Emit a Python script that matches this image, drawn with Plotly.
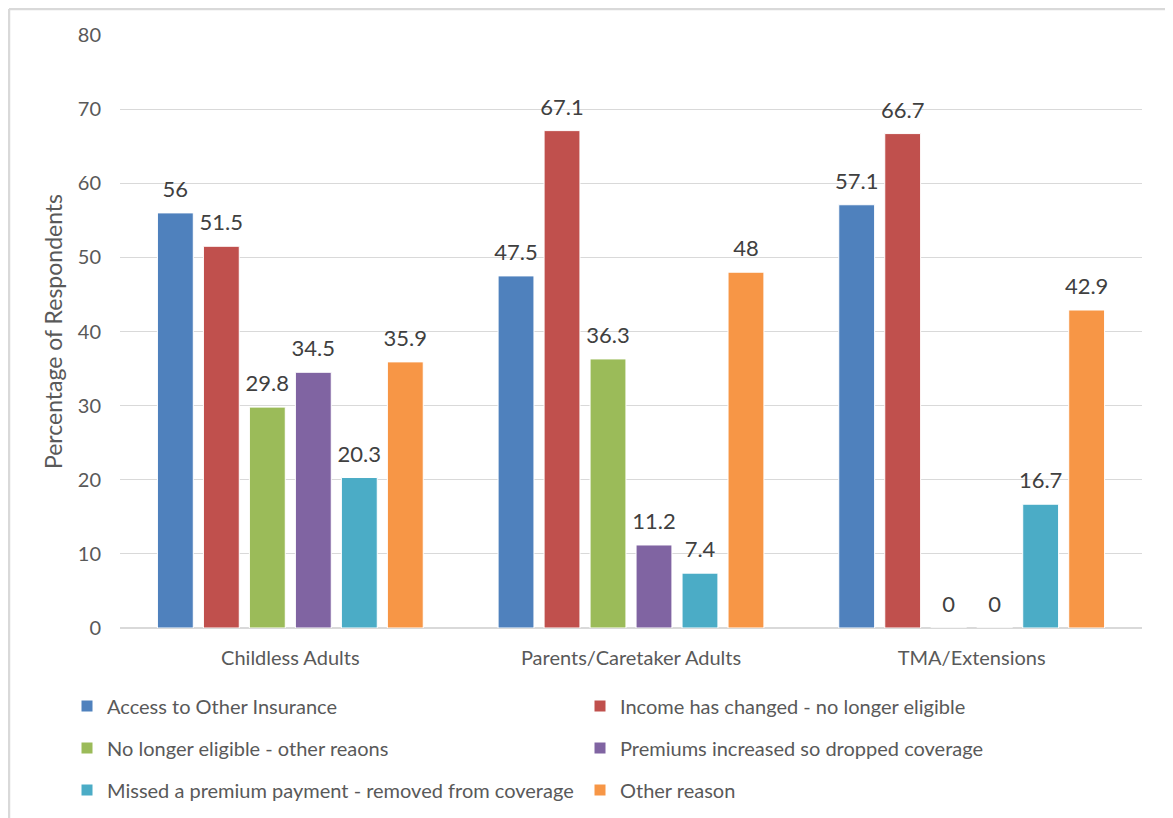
import plotly.graph_objects as go

categories = ["Childless Adults", "Parents/Caretaker Adults", "TMA/Extensions"]

series_names = [
    "Access to Other Insurance",
    "Income has changed - no longer eligible",
    "No longer eligible - other reaons",
    "Premiums increased so dropped coverage",
    "Missed a premium payment - removed from coverage",
    "Other reason",
]

access_other = [56, 47.5, 57.1]
income_changed = [51.5, 67.1, 66.7]
no_longer_eligible = [29.8, 36.3, 0]
premiums_increased = [34.5, 11.2, 0]
missed_premium = [20.3, 7.4, 16.7]
other_reason = [35.9, 48, 42.9]

colors = ["#4F81BD", "#C0504D", "#9BBB59", "#8064A2", "#4BACC6", "#F79646"]

values = [access_other, income_changed, no_longer_eligible,
          premiums_increased, missed_premium, other_reason]

FONT = "Lato, Carlito, 'Open Sans', sans-serif"
GREY = "#595959"
BARGAP = 0.19

# three one-row legends so the rows get Excel-like spacing
legend_ids = ["legend", "legend", "legend2", "legend2", "legend3", "legend3"]

fig = go.Figure()
for i, (name, vals, col) in enumerate(zip(series_names, values, colors)):
    fig.add_trace(go.Bar(
        x=categories,
        y=vals,
        name=name,
        offsetgroup=str(i),
        legend=legend_ids[i],
        marker=dict(color=col, line=dict(color="white", width=1)),
        hoverinfo="skip",
    ))
    # value labels: invisible markers push the text a little above the bar top
    fig.add_trace(go.Scatter(
        x=categories,
        y=vals,
        mode="markers+text",
        offsetgroup=str(i),
        text=[f"{v:g}" for v in vals],
        textposition="top center",
        textfont=dict(size=22, color="#404040", family=FONT),
        marker=dict(size=15, opacity=0),
        showlegend=False,
        cliponaxis=False,
        hoverinfo="skip",
    ))

# the page body adds 8px, so margins are trimmed to land the plot at x 120..1142, y 35..628
ml, mt, mr = 112, 27, 39
plot_h = 593
mb = 818 - mt - plot_h
plot_w = 1173 - ml - mr

# outer frame (top/left edges only, like the cropped Excel chart)
fx0 = (9 - 120) / plot_w
fy1 = 1 + (35 - 9) / plot_h


def row_y(px):
    return (628 - px) / plot_h


legend_common = dict(
    orientation="h",
    x=(67 - 120) / plot_w,
    xanchor="left",
    yanchor="middle",
    entrywidth=468,
    entrywidthmode="pixels",
    itemwidth=30,
    font=dict(size=20, color=GREY, family=FONT),
    traceorder="normal",
    bgcolor="rgba(0,0,0,0)",
)

fig.update_layout(
    width=1173,
    height=818,
    margin=dict(l=ml, r=mr, t=mt, b=mb),
    plot_bgcolor="white",
    paper_bgcolor="white",
    barmode="group",
    bargap=BARGAP,
    bargroupgap=0.22,
    scattermode="group",
    scattergap=BARGAP,
    font=dict(family=FONT, size=20, color=GREY),
    yaxis=dict(
        range=[0, 80],
        dtick=10,
        showgrid=True,
        gridcolor="#D9D9D9",
        gridwidth=1,
        zeroline=True,
        zerolinecolor="#D9D9D9",
        ticks="",
        ticklabelstandoff=18,
        tickfont=dict(size=20, color=GREY),
        title=dict(text="Percentage of Respondents", font=dict(size=23, color=GREY), standoff=8),
    ),
    xaxis=dict(
        showline=True,
        linecolor="#D9D9D9",
        tickfont=dict(size=20, color=GREY),
        ticks="",
        ticklabelstandoff=12,
    ),
    legend=dict(legend_common, y=row_y(706)),
    legend2=dict(legend_common, y=row_y(748)),
    legend3=dict(legend_common, y=row_y(790)),
    shapes=[
        dict(type="line", xref="paper", yref="paper", x0=fx0, x1=fx0, y0=-0.5, y1=fy1,
             line=dict(color="#D9D9D9", width=2.5)),
        dict(type="line", xref="paper", yref="paper", x0=fx0, x1=1.2, y0=fy1, y1=fy1,
             line=dict(color="#D9D9D9", width=2.5)),
    ],
)

fig.write_html("out.html")
